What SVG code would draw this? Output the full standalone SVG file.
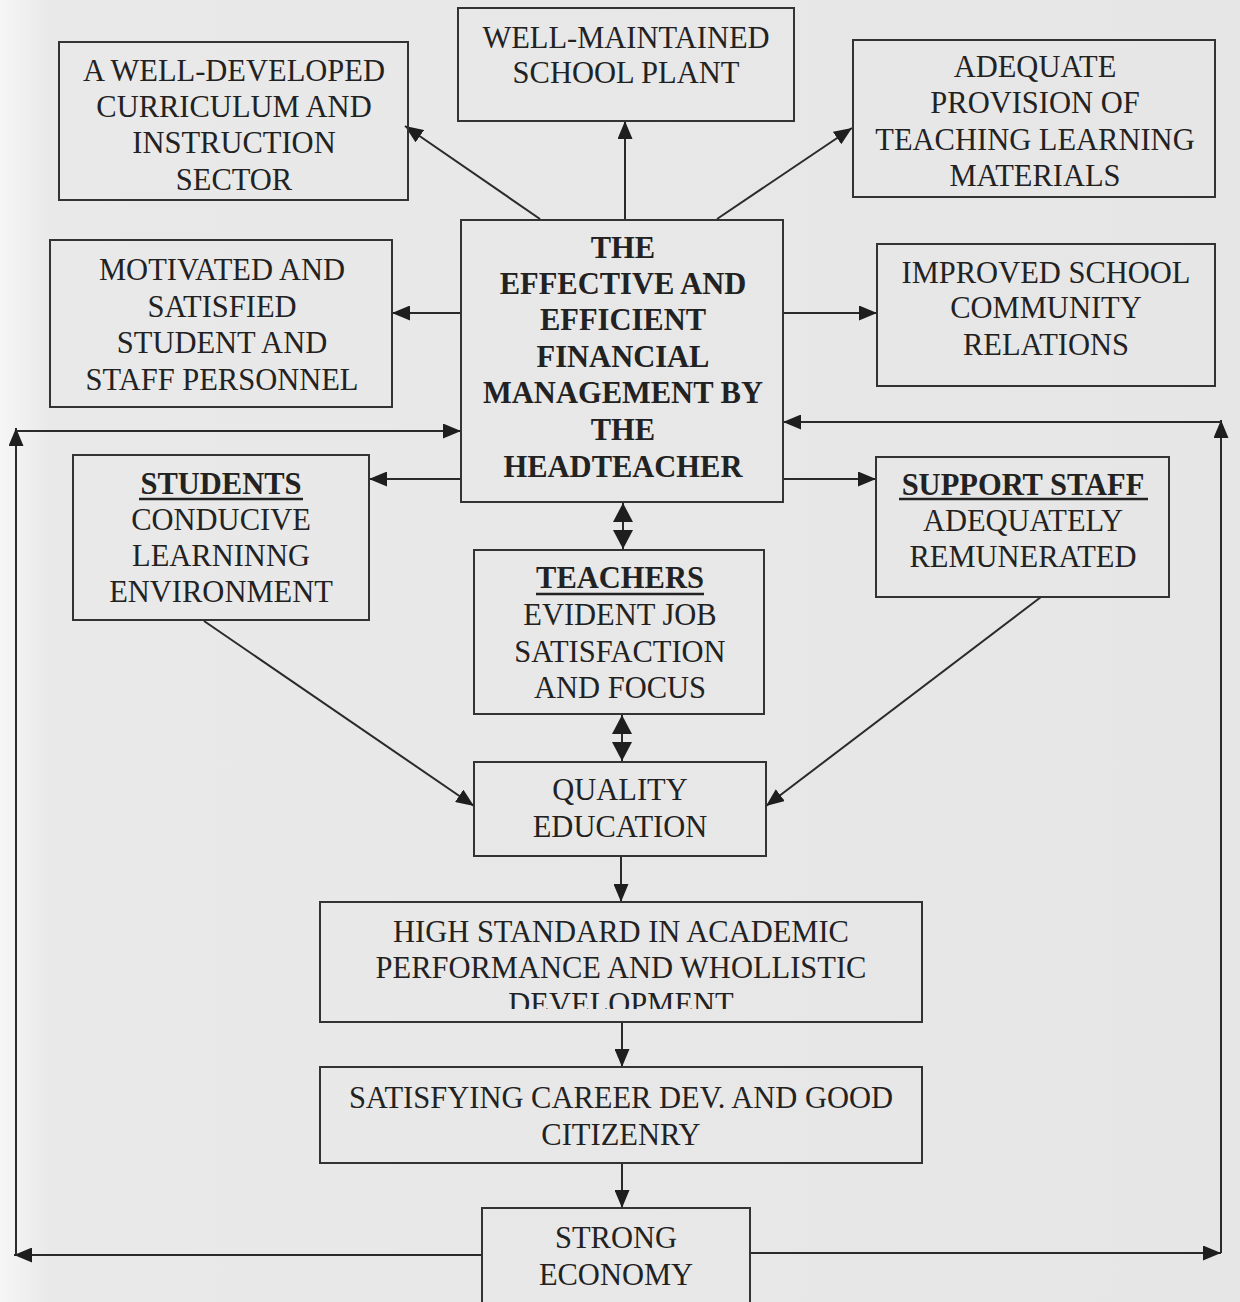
<svg xmlns="http://www.w3.org/2000/svg" width="1240" height="1302" viewBox="0 0 1240 1302">
<defs>
<linearGradient id="bg" x1="0" y1="0" x2="1" y2="0">
<stop offset="0" stop-color="#f6f6f6"/>
<stop offset="0.04" stop-color="#e9e9e9"/>
<stop offset="1" stop-color="#e6e6e6"/>
</linearGradient>
<marker id="ah" viewBox="0 0 18 15" refX="18" refY="7.5" markerWidth="18" markerHeight="15" markerUnits="userSpaceOnUse" orient="auto-start-reverse">
<path d="M0,0 L18,7.5 L0,15 z" fill="#1e1e1e"/>
</marker>
<marker id="ah2" viewBox="0 0 19 20" refX="19" refY="10" markerWidth="19" markerHeight="20" markerUnits="userSpaceOnUse" orient="auto-start-reverse">
<path d="M0,0 L19,10 L0,20 z" fill="#1e1e1e"/>
</marker>
<clipPath id="clipDev"><rect x="320" y="900" width="602" height="109"/></clipPath>
</defs>
<style>
.box{fill:none;stroke:#333;stroke-width:2}
.t{font-family:"Liberation Serif","Times New Roman",serif;font-size:30.5px;fill:#222;text-anchor:middle}
.b{font-weight:bold}
.c{fill:none;stroke:#2a2a2a;stroke-width:2}
.u{stroke:#222;stroke-width:2.5}
</style>
<rect x="0" y="0" width="1240" height="1302" fill="url(#bg)"/>

<g id="connectors">
<path class="c" d="M540,219 L405,126" marker-end="url(#ah)"/>
<path class="c" d="M625,219 L625,121" marker-end="url(#ah)"/>
<path class="c" d="M717,219 L852,128" marker-end="url(#ah)"/>
<path class="c" d="M461,313 L392,313" marker-end="url(#ah)"/>
<path class="c" d="M783,313 L877,313" marker-end="url(#ah)"/>
<path class="c" d="M461,479 L369,479" marker-end="url(#ah)"/>
<path class="c" d="M783,479 L876,479" marker-end="url(#ah)"/>
<path class="c" d="M623,503 L623,549" marker-start="url(#ah2)" marker-end="url(#ah2)"/>
<path class="c" d="M622,715 L622,761" marker-start="url(#ah2)" marker-end="url(#ah2)"/>
<path class="c" d="M204,621 L474,806" marker-end="url(#ah)"/>
<path class="c" d="M1041,597 L766,806" marker-end="url(#ah)"/>
<path class="c" d="M621,856 L621,902" marker-end="url(#ah)"/>
<path class="c" d="M622,1022 L622,1067" marker-end="url(#ah)"/>
<path class="c" d="M622,1163 L622,1208" marker-end="url(#ah)"/>
<path class="c" d="M482,1255 L14,1255" marker-end="url(#ah)"/>
<path class="c" d="M16,1255 L16,428" marker-end="url(#ah)"/>
<path class="c" d="M16,431 L461,431" marker-end="url(#ah)"/>
<path class="c" d="M750,1253 L1221,1253" marker-end="url(#ah)"/>
<path class="c" d="M1221,1253 L1221,420" marker-end="url(#ah)"/>
<path class="c" d="M1221,422 L783,422" marker-end="url(#ah)"/>
</g>

<g id="n-curriculum">
<rect class="box" x="59" y="42" width="349" height="158"/>
<text class="t" x="234" y="81">A WELL-DEVELOPED</text>
<text class="t" x="234" y="117">CURRICULUM AND</text>
<text class="t" x="234" y="153">INSTRUCTION</text>
<text class="t" x="234" y="190">SECTOR</text>
</g>

<g id="n-plant">
<rect class="box" x="458" y="8" width="336" height="113"/>
<text class="t" x="626" y="48">WELL-MAINTAINED</text>
<text class="t" x="626" y="83">SCHOOL PLANT</text>
</g>

<g id="n-materials">
<rect class="box" x="853" y="40" width="362" height="157"/>
<text class="t" x="1035" y="77">ADEQUATE</text>
<text class="t" x="1035" y="113">PROVISION OF</text>
<text class="t" x="1035" y="150">TEACHING LEARNING</text>
<text class="t" x="1035" y="186">MATERIALS</text>
</g>

<g id="n-motivated">
<rect class="box" x="50" y="240" width="342" height="167"/>
<text class="t" x="222" y="280">MOTIVATED AND</text>
<text class="t" x="222" y="317">SATISFIED</text>
<text class="t" x="222" y="353">STUDENT AND</text>
<text class="t" x="222" y="390">STAFF PERSONNEL</text>
</g>

<g id="n-center">
<rect class="box" x="461" y="220" width="322" height="282"/>
<text class="t b" x="623" y="258">THE</text>
<text class="t b" x="623" y="294">EFFECTIVE AND</text>
<text class="t b" x="623" y="330">EFFICIENT</text>
<text class="t b" x="623" y="367">FINANCIAL</text>
<text class="t b" x="623" y="403">MANAGEMENT BY</text>
<text class="t b" x="623" y="440">THE</text>
<text class="t b" x="623" y="477">HEADTEACHER</text>
</g>

<g id="n-community">
<rect class="box" x="877" y="244" width="338" height="142"/>
<text class="t" x="1046" y="283">IMPROVED SCHOOL</text>
<text class="t" x="1046" y="318">COMMUNITY</text>
<text class="t" x="1046" y="355">RELATIONS</text>
</g>

<g id="n-students">
<rect class="box" x="73" y="455" width="296" height="165"/>
<text class="t b" x="221" y="494">STUDENTS</text>
<line class="u" x1="139" y1="499" x2="303" y2="499"/>
<text class="t" x="221" y="530">CONDUCIVE</text>
<text class="t" x="221" y="566">LEARNINNG</text>
<text class="t" x="221" y="602">ENVIRONMENT</text>
</g>

<g id="n-support">
<rect class="box" x="876" y="457" width="293" height="140"/>
<text class="t b" x="1023" y="495">SUPPORT STAFF</text>
<line class="u" x1="899" y1="499" x2="1148" y2="499"/>
<text class="t" x="1023" y="531">ADEQUATELY</text>
<text class="t" x="1023" y="567">REMUNERATED</text>
</g>

<g id="n-teachers">
<rect class="box" x="474" y="550" width="290" height="164"/>
<text class="t b" x="620" y="588">TEACHERS</text>
<line class="u" x1="536" y1="594" x2="704" y2="594"/>
<text class="t" x="620" y="625">EVIDENT JOB</text>
<text class="t" x="620" y="662">SATISFACTION</text>
<text class="t" x="620" y="698">AND FOCUS</text>
</g>

<g id="n-quality">
<rect class="box" x="474" y="762" width="292" height="94"/>
<text class="t" x="620" y="800">QUALITY</text>
<text class="t" x="620" y="837">EDUCATION</text>
</g>

<g id="n-academic">
<rect class="box" x="320" y="902" width="602" height="120"/>
<text class="t" x="621" y="942">HIGH STANDARD IN ACADEMIC</text>
<text class="t" x="621" y="978">PERFORMANCE AND WHOLLISTIC</text>
<text class="t" x="621" y="1014" clip-path="url(#clipDev)">DEVELOPMENT</text>
</g>

<g id="n-career">
<rect class="box" x="320" y="1067" width="602" height="96"/>
<text class="t" x="621" y="1108">SATISFYING CAREER DEV. AND GOOD</text>
<text class="t" x="621" y="1145">CITIZENRY</text>
</g>

<g id="n-economy">
<rect class="box" x="482" y="1208" width="268" height="110"/>
<text class="t" x="616" y="1248">STRONG</text>
<text class="t" x="616" y="1285">ECONOMY</text>
</g>
</svg>
